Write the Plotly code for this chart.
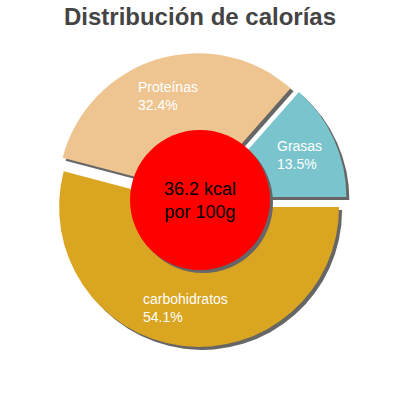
import math
import plotly.graph_objects as go

labels = ['Grasas', 'Proteínas', 'carbohidratos']
values = [13.5, 32.4, 54.1]
colors = ['#7ac5cd', '#eec591', '#daa520']
pulls = [0.05, 0.05, 0.05]
center_text = '36.2 kcal<br>por 100g'

size = 400
radius_px = 140
dom = radius_px * (1 + max(pulls)) / size
shadow = 3 / size
total = sum(values)
# plotly puts the end of the first slice at "rotation" when going counterclockwise
rot = 90 - values[0] / total * 360

fig = go.Figure()

# gray shadow copy, drawn first and shifted right/down
fig.add_trace(go.Pie(labels=labels, values=values, sort=False, direction='counterclockwise', rotation=rot,
                     pull=pulls, marker=dict(colors=['#666666'] * 3), textinfo='none', hoverinfo='skip',
                     showlegend=False,
                     domain=dict(x=[0.5 - dom + shadow, 0.5 + dom + shadow], y=[0.5 - dom - shadow, 0.5 + dom - shadow])))

fig.add_trace(go.Pie(labels=labels, values=values, sort=False, direction='counterclockwise', rotation=rot,
                     pull=pulls, marker=dict(colors=colors), textinfo='none', showlegend=False,
                     domain=dict(x=[0.5 - dom, 0.5 + dom], y=[0.5 - dom, 0.5 + dom])))

# labels at the middle angle of each slice
cum = 0
label_r = 109 / size
for name, v in zip(labels, values):
    mid = (cum + v / 2) / total * 2 * math.pi
    cum += v
    fig.add_annotation(x=0.5 + label_r * math.cos(mid), y=0.5 + label_r * math.sin(mid), xref='paper', yref='paper',
                       text='%s<br>%.1f%%' % (name, v / total * 100), showarrow=False, align='left',
                       xanchor='center', yanchor='middle',
                       font=dict(family='Liberation Sans, Arial', size=14, color='white'))

r = 70 / size
fig.add_shape(type='circle', xref='paper', yref='paper', x0=0.5 - r + shadow, x1=0.5 + r + shadow,
              y0=0.5 - r - shadow, y1=0.5 + r - shadow, fillcolor='#666666', line=dict(width=0))
fig.add_shape(type='circle', xref='paper', yref='paper', x0=0.5 - r, x1=0.5 + r, y0=0.5 - r, y1=0.5 + r,
              fillcolor='#ff0000', line=dict(width=0))
fig.add_annotation(x=0.5, y=0.5, xref='paper', yref='paper', text=center_text, showarrow=False,
                   font=dict(family='Liberation Sans, Arial', size=18, color='black'))

fig.update_layout(width=size, height=size, margin=dict(l=0, r=0, t=0, b=0), paper_bgcolor='white',
                  title=dict(text='<b>Distribución de calorías</b>', x=0.5, xanchor='center', y=1 - 17 / size,
                             yanchor='middle', font=dict(family='Liberation Sans, Arial', size=24, color='#444444')))

# the page body has a default 8px margin, drop it so the figure sits at 0,0
fig.write_html('out.html', config={'displayModeBar': False}, post_script="document.body.style.margin='0';")
